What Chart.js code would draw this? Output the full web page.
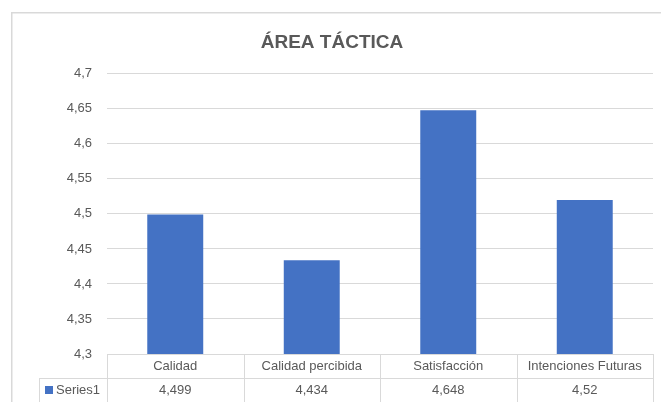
<!DOCTYPE html>
<html>
<head>
<meta charset="utf-8">
<script src="https://cdn.jsdelivr.net/npm/chart.js@4/dist/chart.umd.min.js"></script>
<style>
    html, body { margin: 0; padding: 0; background: #fff; }
    #wrap { position: absolute; left: 11px; top: 12px; width: 650px; height: 390px; }
</style>
</head>
<body>
<div id="wrap"><canvas id="barChart"></canvas></div>
<script>
        // --- Data ---
        const categories = ['Calidad', 'Calidad percibida', 'Satisfacción', 'Intenciones Futuras'];
        const seriesName = 'Series1';
        const seriesValues = [4.499, 4.434, 4.648, 4.52];
        const yMin = 4.3;
        const yMax = 4.7;
        const yStep = 0.05;

        const FONT = "'Liberation Sans', Arial, sans-serif";
        const TEXT_COLOR = '#595959';
        const LINE_COLOR = '#d9d9d9';
        const BAR_COLOR = '#4472c4';

        const fmt = v => Number(v.toFixed(3)).toString().replace('.', ',');

        // Outer frame + data table under the plot
        const tablePlugin = {
            id: 'dataTable',
            beforeDraw(chart) {
                const ctx = chart.ctx;
                ctx.save();
                ctx.strokeStyle = LINE_COLOR;
                ctx.lineWidth = 1.5;
                ctx.strokeRect(0.75, 0.75, chart.width + 10, chart.height + 10);
                ctx.restore();
            },
            afterDraw(chart) {
                const ctx = chart.ctx;
                const area = chart.chartArea;
                const x = chart.scales.x;
                const top = area.bottom;
                const mid = top + 24;
                const bottom = chart.height + 5;
                const colW = (area.right - area.left) / categories.length;
                const legendLeft = 28;

                ctx.save();
                ctx.strokeStyle = LINE_COLOR;
                ctx.lineWidth = 1;
                ctx.beginPath();
                ctx.moveTo(area.left, top + 0.5);
                ctx.lineTo(area.right, top + 0.5);
                ctx.moveTo(legendLeft, mid + 0.5);
                ctx.lineTo(area.right, mid + 0.5);
                ctx.moveTo(legendLeft + 0.5, mid);
                ctx.lineTo(legendLeft + 0.5, bottom);
                for (let i = 0; i <= categories.length; i++) {
                    const lx = Math.round(area.left + i * colW) + 0.5;
                    ctx.moveTo(lx, top);
                    ctx.lineTo(lx, bottom);
                }
                ctx.stroke();

                ctx.font = '13px ' + FONT;
                ctx.fillStyle = TEXT_COLOR;
                ctx.textAlign = 'center';
                ctx.textBaseline = 'middle';
                categories.forEach((c, i) => {
                    const cx = x.getPixelForValue(i);
                    ctx.fillText(c, cx, top + 12.5);
                    ctx.fillText(fmt(seriesValues[i]), cx, mid + 12);
                });

                // legend key
                ctx.fillStyle = BAR_COLOR;
                ctx.fillRect(legendLeft + 6, mid + 8, 8, 8);
                ctx.fillStyle = TEXT_COLOR;
                ctx.textAlign = 'left';
                ctx.fillText(seriesName, legendLeft + 17, mid + 12);
                ctx.restore();
            }
        };

        const chart = new Chart(document.getElementById('barChart'), {
            type: 'bar',
            data: {
                labels: categories,
                datasets: [{
                    label: seriesName,
                    data: seriesValues,
                    backgroundColor: BAR_COLOR,
                    categoryPercentage: 1,
                    barPercentage: 0.41
                }]
            },
            options: {
                responsive: true,
                maintainAspectRatio: false,
                animation: false,
                layout: { padding: { left: 0, right: 8, top: 0, bottom: 48 } },
                scales: {
                    x: { display: false },
                    y: {
                        min: yMin,
                        max: yMax,
                        afterFit: s => { s.width = 96; },
                        ticks: {
                            stepSize: yStep,
                            padding: 15,
                            color: TEXT_COLOR,
                            font: { family: FONT, size: 13 },
                            callback: v => fmt(v)
                        },
                        grid: { color: LINE_COLOR, drawTicks: false },
                        border: { display: false }
                    }
                },
                plugins: {
                    legend: { display: false },
                    tooltip: { enabled: false },
                    title: {
                        display: true,
                        text: 'ÁREA TÁCTICA',
                        color: TEXT_COLOR,
                        font: { family: FONT, size: 19, weight: 'bold' },
                        padding: { top: 19, bottom: 20 }
                    }
                }
            },
            plugins: [tablePlugin]
        });
</script>
</body>
</html>
